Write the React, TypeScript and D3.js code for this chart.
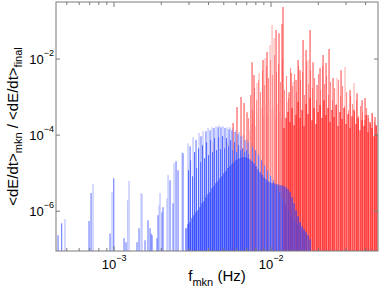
import React from 'react';
import * as d3 from 'd3';

const W = 381;
const H = 293;
const PL = 56, PR = 378, PT = 2, PB = 251;

const xDomain: [number, number] = [4.27e-4, 4.8e-2];
const yDomain: [number, number] = [9.0e-8, 0.316];
const xMajorTicks = [1e-3, 1e-2];
const xTickExp = ['−3', '−2'];
const yMajorTicks = [1e-6, 1e-4, 1e-2];
const yTickExp = ['−6', '−4', '−2'];

// [frequency (mHz), <dE/dt>mkn/<dE/dt>final]
const blueLight: [number, number][] = [
  [0.487, 6.2e-7], [0.735, 5.1e-6], [0.971, 3.2e-6], [1.223, 1.95e-6], [1.246, 6.2e-6],
  [1.486, 3.0e-6], [1.508, 2.8e-6], [1.935, 1.44e-6], [1.963, 3.0e-6], [2.176, 2.2e-6],
  [2.208, 8.9e-6], [2.411, 1.83e-5], [2.711, 3.57e-5], [2.96, 6.16e-5], [3.186, 8.86e-5],
  [3.478, 1.13e-4], [3.688, 1.27e-4], [3.969, 1.53e-4], [4.209, 1.62e-4], [4.463, 1.73e-4],
  [4.664, 1.83e-4], [4.946, 1.73e-4], [5.246, 1.62e-4], [5.482, 1.62e-4], [5.728, 1.53e-4],
  [5.986, 1.35e-4], [6.256, 1.2e-4], [6.634, 1.0e-4], [7.033, 7.85e-5], [7.46, 6.5e-5],
  [7.79, 4.5e-5], [8.14, 3.57e-5], [8.51, 2.64e-5], [8.89, 1.95e-5], [9.29, 1.36e-5],
  [9.71, 1.0e-5], [10.14, 7.4e-6], [10.6, 5.5e-6], [11.08, 3.8e-6], [11.58, 2.6e-6],
  [12.1, 1.83e-6], [12.65, 1.27e-6], [13.2, 8.9e-7], [13.8, 6.6e-7], [14.4, 5.2e-7],
  [15.1, 4.1e-7], [15.7, 3.4e-7], [16.7, 2.8e-7],
];

const blueMid: [number, number][] = [
  [0.44, 2.33e-7], [0.464, 4.8e-7], [0.693, 5.5e-7], [0.714, 3.0e-6], [0.943, 2.6e-7],
  [0.996, 7.4e-6], [1.158, 1.95e-7], [1.192, 1.53e-7], [1.401, 1.53e-7], [1.443, 3.57e-7],
  [1.576, 1.73e-7], [1.646, 5.8e-7], [1.696, 3.57e-7], [1.721, 2.6e-7], [1.746, 2.33e-7],
  [1.879, 1.95e-7], [1.907, 7.85e-7], [2.022, 9.4e-7], [2.051, 1.27e-6], [2.273, 6.5e-6],
  [2.376, 1.62e-6], [2.483, 2.07e-5], [2.557, 1.2e-5], [2.751, 3.36e-5], [3.05, 5.1e-5],
  [3.33, 7.4e-5], [3.58, 9.4e-5], [3.85, 1.27e-4], [4.09, 1.35e-4], [4.33, 1.53e-4],
  [4.6, 1.62e-4], [4.8, 1.62e-4], [5.09, 1.53e-4], [5.4, 1.43e-4], [5.64, 1.35e-4],
  [5.9, 1.2e-4], [6.16, 1.06e-4], [6.44, 9.4e-5], [6.83, 7.4e-5], [7.14, 6.5e-5],
  [7.62, 5.0e-5], [7.96, 4.0e-5], [8.32, 3.0e-5], [8.7, 2.2e-5], [9.1, 1.6e-5],
  [9.5, 1.2e-5], [9.93, 8.5e-6], [10.37, 6.5e-6], [10.84, 4.6e-6], [11.33, 3.2e-6],
  [11.84, 2.2e-6], [12.37, 1.5e-6], [12.93, 1.05e-6], [13.5, 7.6e-7], [14.1, 5.8e-7],
  [14.75, 4.6e-7], [15.4, 3.7e-7], [16.2, 3.0e-7],
];

const blueFill: [number, number][] = [
  [2.982, 1.2e-5], [3.072, 2.2e-5], [3.163, 8.3e-6], [3.257, 3.57e-5], [3.355, 1.36e-5],
  [3.453, 4.5e-5], [3.556, 1.95e-5], [3.663, 5.46e-5], [3.771, 2.48e-5], [3.883, 6.5e-5],
  [3.998, 2.98e-5], [4.118, 7.4e-5], [4.24, 3.57e-5], [4.367, 8.3e-5], [4.496, 4.03e-5],
  [4.63, 8.86e-5], [4.768, 4.28e-5], [4.91, 9.4e-5], [5.055, 4.5e-5], [5.207, 8.3e-5],
  [5.361, 5.1e-5], [5.522, 7.4e-5], [5.686, 4.03e-5], [5.855, 6.5e-5], [6.03, 3.57e-5],
  [6.209, 5.46e-5], [6.393, 4.03e-5], [6.585, 4.5e-5], [6.78, 3.57e-5], [6.982, 4.03e-5],
  [7.19, 3.16e-5],
];

const blueDark: [number, number][] = [
  [2.874, 3.57e-7], [2.96, 4.55e-7], [3.049, 5.1e-7], [3.14, 6.5e-7], [3.233, 7.85e-7],
  [3.33, 9.4e-7], [3.428, 1.06e-6], [3.53, 1.27e-6], [3.636, 1.62e-6], [3.743, 1.83e-6],
  [3.855, 2.33e-6], [3.969, 2.8e-6], [4.088, 3.16e-6], [4.209, 4.0e-6], [4.335, 4.55e-6],
  [4.463, 5.46e-6], [4.596, 6.16e-6], [4.733, 7.4e-6], [4.874, 8.3e-6], [5.018, 1.0e-5],
  [5.169, 1.13e-5], [5.322, 1.36e-5], [5.482, 1.53e-5], [5.644, 1.73e-5], [5.812, 1.95e-5],
  [5.986, 2.2e-5], [6.164, 2.33e-5], [6.346, 2.48e-5], [6.537, 2.64e-5], [6.73, 2.64e-5],
  [6.931, 2.64e-5], [7.137, 2.48e-5], [7.348, 2.33e-5], [7.568, 2.07e-5], [7.793, 1.83e-5],
  [8.025, 1.53e-5], [8.264, 1.27e-5], [8.51, 1.06e-5], [8.764, 8.9e-6], [9.025, 7.85e-6],
  [9.294, 6.95e-6], [9.57, 6.16e-6], [9.854, 5.8e-6], [10.15, 5.46e-6], [10.45, 5.46e-6],
  [10.76, 5.1e-6], [11.08, 5.1e-6], [11.41, 4.83e-6], [11.75, 4.83e-6], [12.1, 4.55e-6],
  [12.46, 4.28e-6], [12.83, 3.8e-6], [13.21, 3.16e-6], [13.61, 2.33e-6], [14.01, 1.62e-6],
  [14.43, 1.06e-6], [14.86, 7.4e-7], [15.3, 5.1e-7], [15.76, 4.03e-7], [16.23, 3.36e-7],
  [16.71, 2.8e-7], [17.21, 2.33e-7], [17.72, 1.83e-7],
];

const redLight: [number, number][] = [
  [4.27, 6.5e-5], [5.32, 6.2e-5], [8.14, 2.33e-3], [8.39, 4.3e-3], [9.16, 1.06e-2],
  [9.85, 2.33e-2], [10.15, 7.85e-2], [10.45, 3.57e-2], [12.65, 7.4e-4], [13.81, 2.5e-3],
  [17.21, 9.4e-3], [26.33, 3.16e-3], [29.6, 6.2e-3], [33.79, 2.33e-3],
  [7.348, 1.35e-4], [7.568, 1.95e-4], [7.793, 2.8e-4], [8.025, 1.73e-4], [8.264, 4.03e-4],
  [8.51, 2.48e-4], [8.764, 5.14e-4], [9.025, 3.16e-4], [9.294, 6.55e-4], [9.57, 3.57e-4],
  [9.854, 8.3e-4], [10.15, 4.55e-4], [10.45, 5.8e-4], [10.76, 2.8e-4], [11.08, 6.55e-4],
  [11.41, 4.03e-4], [11.75, 2.48e-4],
];

const redPink: [number, number][] = [
  [7.19, 2.8e-4], [7.402, 1.13e-3], [7.624, 4.55e-4], [7.851, 1.73e-3], [8.084, 8.3e-4],
  [8.325, 2.8e-3], [8.573, 1.35e-3], [8.829, 5.14e-3], [9.092, 2.07e-3], [9.363, 6.54e-3],
  [9.641, 3.16e-3], [9.927, 9.4e-3], [10.22, 3.8e-3], [10.53, 1.27e-2], [10.84, 4.55e-3],
  [11.16, 7.38e-3], [11.49, 2.48e-3], [11.84, 1.06e-2], [12.19, 1.53e-3], [12.55, 3.57e-3],
  [12.92, 9.4e-4], [13.31, 5.8e-3], [13.71, 1.95e-3], [14.11, 4.03e-3], [14.54, 1.35e-3],
  [14.97, 6.54e-3], [15.41, 2.8e-3], [15.88, 4.55e-3], [16.35, 1.13e-3], [16.83, 8.3e-3],
  [17.34, 2.2e-3], [17.85, 5.14e-3], [18.37, 1.73e-3], [18.93, 3.16e-3], [19.49, 8.3e-4],
  [20.08, 4.03e-3], [20.67, 1.53e-3], [21.29, 6.54e-3], [21.92, 2.2e-3], [22.57, 3.57e-3],
  [23.24, 1.13e-3], [23.94, 2.48e-3], [24.64, 8.3e-4], [25.38, 1.73e-3], [26.13, 6.55e-4],
  [26.92, 2.8e-3], [27.71, 1.06e-3], [28.54, 1.95e-3], [29.39, 5.8e-4], [30.26, 1.35e-3],
  [31.16, 4.55e-4], [32.1, 1.06e-3], [33.04, 6.55e-4], [34.04, 4.03e-4], [35.04, 8.3e-4],
  [36.08, 3.16e-4], [37.16, 5.8e-4], [38.26, 4.03e-4], [39.41, 2.48e-4], [40.58, 5.14e-4],
  [41.78, 2.8e-4], [43.03, 1.95e-4], [44.3, 3.57e-4], [45.63, 2.2e-4], [46.98, 1.73e-4],
];

const redMid: [number, number][] = [
  [5.73, 2.07e-4], [6.07, 5.5e-4], [6.44, 1.0e-3], [6.73, 7.0e-4], [7.03, 4.0e-4],
  [7.57, 8.3e-3], [7.79, 3.8e-3], [8.89, 9.4e-3], [9.43, 1.53e-2], [10.76, 5.8e-2],
  [11.24, 4.8e-2], [11.75, 8.3e-2], [11.92, 0.233], [13.02, 1.35e-3], [13.41, 4.3e-3],
  [14.43, 2.8e-3], [14.86, 9.4e-3], [15.3, 5.1e-3], [15.99, 3.16e-2], [16.71, 1.73e-2],
  [17.72, 5.8e-2], [18.51, 8.3e-3], [19.63, 2.07e-3], [20.52, 5.8e-3], [21.44, 1.27e-2],
  [22.4, 7.85e-3], [23.41, 1.83e-2], [24.83, 3.16e-3], [27.92, 5.1e-3], [31.86, 1.53e-3],
  [35.3, 1.27e-3], [37.98, 8.3e-4], [39.69, 9.4e-4], [41.47, 3.4e-4], [43.98, 3.8e-4],
  [45.95, 3.0e-4],
];

const redDark: [number, number][] = [
  [12.1, 1.53e-4], [12.46, 2.8e-4], [12.83, 4.03e-4], [13.21, 2.2e-4], [13.61, 5.14e-4],
  [14.01, 1.83e-4], [14.43, 3.36e-4], [14.86, 7.4e-4], [15.3, 2.8e-4], [15.76, 4.55e-4],
  [16.23, 1.73e-4], [16.71, 6.55e-4], [17.21, 3.57e-4], [17.72, 9.4e-4], [18.24, 2.48e-4],
  [18.79, 5.14e-4], [19.35, 1.95e-4], [19.93, 4.03e-4], [20.52, 6.16e-4], [21.13, 2.8e-4],
  [21.76, 8.3e-4], [22.4, 3.36e-4], [23.07, 5.14e-4], [23.76, 2.2e-4], [24.46, 4.55e-4],
  [25.19, 3.0e-4], [25.94, 6.16e-4], [26.72, 1.73e-4], [27.51, 4.03e-4], [28.33, 2.64e-4],
  [29.17, 5.14e-4], [30.04, 1.95e-4], [30.93, 3.57e-4], [31.86, 1.53e-4], [32.8, 3.16e-4],
  [33.79, 4.55e-4], [34.78, 1.95e-4], [35.82, 2.8e-4], [36.89, 1.35e-4], [37.98, 2.48e-4],
  [39.12, 1.73e-4], [40.28, 3.36e-4], [41.47, 1.2e-4], [42.71, 2.2e-4], [43.98, 1.53e-4],
  [45.3, 9.4e-5], [46.64, 1.83e-4], [48.03, 1.06e-4],
];

const tiers: { data: [number, number][]; color: string }[] = [
  { data: redLight, color: '#ffb0b0' },
  { data: blueLight, color: '#b3bbff' },
  { data: redPink, color: '#ff8c8c' },
  { data: redMid, color: '#ff5050' },
  { data: blueMid, color: '#6b7cff' },
  { data: blueFill, color: '#5469ff' },
  { data: redDark, color: '#ff1c1c' },
  { data: blueDark, color: '#2a40ff' },
];

const FONT = "'Liberation Sans', Arial, Helvetica, sans-serif";

export default function App() {
  const x = d3.scaleLog().domain(xDomain).range([PL, PR]);
  const y = d3.scaleLog().domain(yDomain).range([PB, PT]);
  const minorX = x.ticks().filter((t) => !xMajorTicks.some((m) => Math.abs(m - t) / m < 1e-6));
  const axisColor = '#7a7a7a';

  return (
    <svg width={W} height={H} style={{ position: 'absolute', left: 0, top: 0, background: '#fff' }}>
      <defs>
        <clipPath id="plot">
          <rect x={PL} y={PT} width={PR - PL} height={PB - PT} />
        </clipPath>
      </defs>
      <g clipPath="url(#plot)">
        {tiers.map((tier, ti) => (
          <g key={ti} stroke={tier.color} strokeWidth={1.1}>
            {tier.data.map(([f, v], i) => (
              <line key={i} x1={x(f * 1e-3)} x2={x(f * 1e-3)} y1={y(yDomain[0])} y2={y(v)} />
            ))}
          </g>
        ))}
      </g>
      <rect x={PL} y={PT} width={PR - PL} height={PB - PT} fill="none" stroke={axisColor} strokeWidth={1} />
      {xMajorTicks.map((t, i) => (
        <g key={'xm' + i} stroke={axisColor}>
          <line x1={x(t)} x2={x(t)} y1={PB} y2={PB - 5} />
          <line x1={x(t)} x2={x(t)} y1={PT} y2={PT + 5} />
        </g>
      ))}
      {minorX.map((t, i) => (
        <g key={'xn' + i} stroke={axisColor}>
          <line x1={x(t)} x2={x(t)} y1={PB} y2={PB - 3} />
          <line x1={x(t)} x2={x(t)} y1={PT} y2={PT + 3} />
        </g>
      ))}
      {yMajorTicks.map((t, i) => (
        <g key={'ym' + i} stroke={axisColor}>
          <line x1={PL} x2={PL + 4} y1={y(t)} y2={y(t)} />
          <line x1={PR} x2={PR - 4} y1={y(t)} y2={y(t)} />
        </g>
      ))}
      {xMajorTicks.map((t, i) => (
        <text key={'xl' + i} x={x(t)} y={269} textAnchor="middle" fontFamily={FONT} fontSize={13} fill="#000">
          <tspan>10</tspan>
          <tspan dy={-8} fontSize={9}>{xTickExp[i]}</tspan>
        </text>
      ))}
      {yMajorTicks.map((t, i) => (
        <text key={'yl' + i} x={PL - 2} y={y(t) + 5} textAnchor="end" fontFamily={FONT} fontSize={13} fill="#000">
          <tspan>10</tspan>
          <tspan dy={-8} fontSize={9}>{yTickExp[i]}</tspan>
        </text>
      ))}
      <text x={(PL + PR) / 2} y={281} textAnchor="middle" fontFamily={FONT} fontSize={15} fill="#000">
        <tspan>f</tspan>
        <tspan dy={5} fontSize={11}>mkn</tspan>
        <tspan dy={-5}>{'  (Hz)'}</tspan>
      </text>
      <text
        transform={`translate(18, ${(PT + PB) / 2}) rotate(-90)`}
        textAnchor="middle"
        fontFamily={FONT}
        fontSize={15}
        fill="#000"
      >
        <tspan>{'<dE/dt>'}</tspan>
        <tspan dy={4} fontSize={11}>mkn</tspan>
        <tspan dy={-4}>{' / <dE/dt>'}</tspan>
        <tspan dy={4} fontSize={11}>final</tspan>
      </text>
    </svg>
  );
}
